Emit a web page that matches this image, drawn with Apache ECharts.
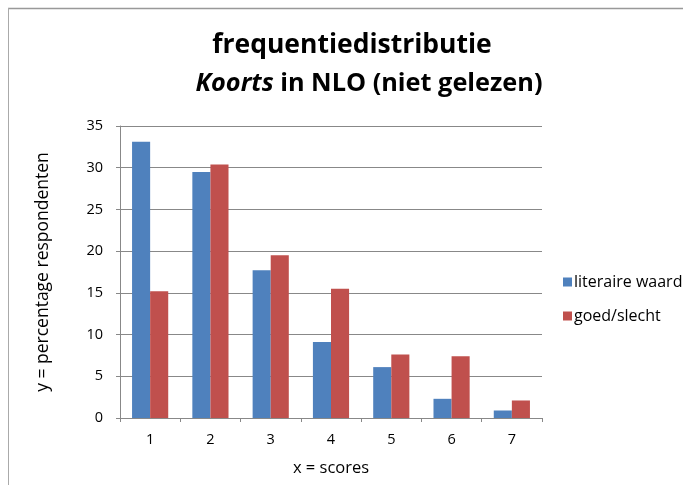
<!DOCTYPE html>
<html><head><meta charset="utf-8">
<script src="https://cdn.jsdelivr.net/npm/echarts@6/dist/echarts.min.js"></script>
<style>html,body{margin:0;padding:0;background:#fff;}#c{width:683px;height:485px;}</style>
</head><body><div id="c"></div>
<script>
const categories = ['1','2','3','4','5','6','7'];
const literaireWaarde = [33.1, 29.5, 17.7, 9.1, 6.1, 2.3, 0.9];
const goedSlecht = [15.2, 30.4, 19.5, 15.5, 7.6, 7.4, 2.1];
const seriesNames = ['literaire waarde', 'goed/slecht'];
const yTicks = {min: 0, max: 35, interval: 5};
const FONT = 'Open Sans';
const chart = echarts.init(document.getElementById('c'));
chart.setOption({
  backgroundColor: '#fff',
  animation: false,
  graphic: [
    {type: 'line', shape: {x1: 8, y1: 8.5, x2: 683, y2: 8.5}, style: {stroke: '#999', lineWidth: 1.5}},
    {type: 'line', shape: {x1: 8.5, y1: 8, x2: 8.5, y2: 485}, style: {stroke: '#aaa', lineWidth: 1}}
  ],
  title: [
    {
      text: 'frequentiedistributie',
      left: 347, top: 27, textAlign: 'center',
      textStyle: {fontFamily: FONT, fontSize: 26.5, fontWeight: 'bold', color: '#000'}
    },
    {
      text: '{i|Koorts}{n| in NLO (niet gelezen)}',
      left: 364, top: 66, textAlign: 'center',
      textStyle: {
        rich: {
          n: {fontFamily: FONT, fontSize: 25.3, fontWeight: 'bold', color: '#000'},
          i: {fontFamily: FONT, fontSize: 25.3, fontWeight: 'bold', fontStyle: 'italic', color: '#000'}
        }
      }
    }
  ],
  legend: {
    orient: 'vertical', left: 558, top: 269, itemWidth: 9, itemHeight: 9, itemGap: 18,
    icon: 'rect',
    textStyle: {fontFamily: FONT, fontSize: 16, color: '#000', padding: [0, 0, 0, -3]},
    data: seriesNames
  },
  grid: {left: 120, right: 141, top: 126, bottom: 67, containLabel: false},
  xAxis: {
    type: 'category', data: categories,
    name: 'x = scores', nameLocation: 'middle', nameGap: 42,
    nameTextStyle: {fontFamily: FONT, fontSize: 16.5, color: '#000'},
    axisLine: {lineStyle: {color: '#888'}},
    axisTick: {show: true, length: 4, alignWithLabel: false, lineStyle: {color: '#888'}},
    axisLabel: {fontFamily: FONT, fontSize: 14.5, color: '#000', margin: 14}
  },
  yAxis: {
    type: 'value', min: yTicks.min, max: yTicks.max, interval: yTicks.interval,
    name: 'y = percentage respondenten', nameLocation: 'middle', nameGap: 68,
    nameTextStyle: {fontFamily: FONT, fontSize: 17.5, color: '#000'},
    axisLine: {show: true, lineStyle: {color: '#888'}},
    axisTick: {show: true, length: 4, inside: false, lineStyle: {color: '#888'}},
    axisLabel: {fontFamily: FONT, fontSize: 14.5, color: '#000', margin: 17},
    splitLine: {lineStyle: {color: '#888', width: 1}}
  },
  series: [
    {name: seriesNames[0], type: 'bar', data: literaireWaarde, barGap: '0%', barCategoryGap: '40%', itemStyle: {color: '#4F81BD'}},
    {name: seriesNames[1], type: 'bar', data: goedSlecht, itemStyle: {color: '#C0504D'}}
  ]
});
</script></body></html>
